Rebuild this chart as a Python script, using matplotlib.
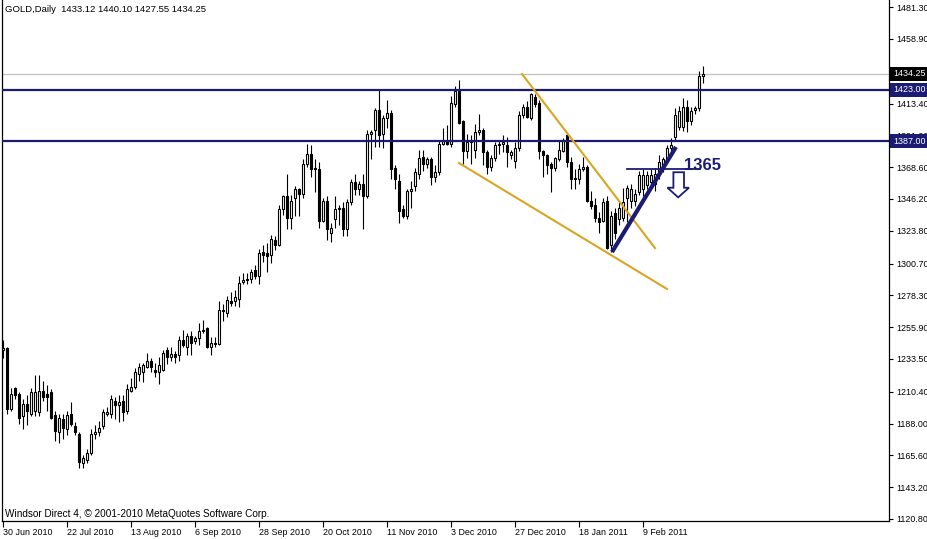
import matplotlib
matplotlib.use("Agg")
import matplotlib.pyplot as plt
import matplotlib.transforms as mtransforms
from matplotlib.patches import Polygon

plt.rcParams['font.family'] = ['Liberation Sans', 'DejaVu Sans']

# ---------------- data (GOLD daily) ----------------
opens = [1240, 1241, 1198, 1213, 1209, 1193, 1202, 1195, 1197, 1196,
         1211, 1209, 1210, 1194, 1182, 1191, 1184, 1195, 1186, 1181,
         1160, 1162, 1167, 1181, 1182, 1186, 1195, 1195, 1204, 1201,
         1204, 1197, 1211, 1214, 1223, 1224, 1228, 1232, 1226, 1224,
         1226, 1240, 1235, 1237, 1236, 1247, 1242, 1250, 1246, 1248,
         1253, 1255, 1242, 1245, 1244, 1268, 1266, 1274, 1274, 1276,
         1288, 1290, 1290, 1296, 1292, 1309, 1308, 1307, 1317, 1314,
         1339, 1348, 1333, 1347, 1353, 1350, 1371, 1378, 1368, 1367,
         1331, 1345, 1322, 1332, 1339, 1340, 1325, 1344, 1358, 1353,
         1357, 1348, 1392, 1395, 1409, 1392, 1403, 1407, 1368, 1359,
         1339, 1334, 1352, 1355, 1364, 1376, 1371, 1374, 1362, 1365,
         1385, 1387, 1385, 1413, 1422, 1401, 1380, 1386, 1381, 1393,
         1395, 1379, 1369, 1375, 1384, 1385, 1384, 1377, 1373, 1382,
         1405, 1411, 1403, 1418, 1414, 1380, 1377, 1371, 1368, 1374,
         1380, 1391, 1372, 1361, 1360, 1367, 1369, 1345, 1342, 1333,
         1331, 1345, 1314, 1336, 1332, 1333, 1347, 1345, 1345, 1351,
         1353, 1356, 1358, 1357, 1363, 1368, 1374, 1382, 1390, 1397,
         1397, 1411, 1401, 1409, 1410, 1433.12]
highs = [1247, 1242, 1213, 1214, 1210, 1205, 1208, 1213, 1222, 1222,
         1218, 1215, 1212, 1197, 1195, 1195, 1197, 1203, 1189, 1182,
         1166, 1170, 1184, 1187, 1190, 1198, 1200, 1208, 1207, 1208,
         1208, 1216, 1220, 1227, 1231, 1231, 1238, 1234, 1231, 1235,
         1240, 1242, 1242, 1239, 1250, 1254, 1252, 1253, 1250, 1259,
         1261, 1256, 1249, 1249, 1274, 1272, 1278, 1281, 1282, 1292,
         1294, 1294, 1297, 1300, 1311, 1314, 1315, 1321, 1320, 1342,
         1349, 1364, 1349, 1355, 1354, 1374, 1385, 1384, 1374, 1372,
         1347, 1348, 1329, 1348, 1342, 1344, 1346, 1360, 1364, 1359,
         1364, 1395, 1395, 1410, 1423, 1405, 1416, 1409, 1370, 1364,
         1342, 1353, 1359, 1368, 1381, 1381, 1376, 1376, 1370, 1388,
         1396, 1398, 1419, 1426, 1430, 1402, 1392, 1391, 1399, 1406,
         1396, 1381, 1377, 1386, 1388, 1391, 1390, 1381, 1386, 1408,
         1413, 1415, 1421, 1420, 1416, 1381, 1378, 1372, 1376, 1387,
         1389, 1393, 1376, 1367, 1371, 1376, 1370, 1352, 1347, 1337,
         1347, 1348, 1338, 1340, 1344, 1354, 1356, 1357, 1353, 1366,
         1367, 1366, 1367, 1368, 1377, 1376, 1384, 1389, 1410, 1412,
         1417, 1416, 1411, 1412, 1436, 1440.10]
lows = [1234, 1195, 1197, 1205, 1188, 1184, 1187, 1193, 1193, 1193,
        1204, 1197, 1191, 1176, 1174, 1177, 1180, 1186, 1180, 1157,
        1157, 1160, 1166, 1177, 1179, 1184, 1193, 1192, 1191, 1189,
        1190, 1195, 1210, 1212, 1218, 1217, 1227, 1224, 1221, 1216,
        1225, 1230, 1232, 1231, 1232, 1242, 1236, 1236, 1244, 1243,
        1252, 1241, 1236, 1242, 1243, 1260, 1263, 1271, 1271, 1270,
        1286, 1286, 1287, 1290, 1286, 1302, 1295, 1301, 1310, 1313,
        1335, 1325, 1325, 1334, 1334, 1347, 1369, 1362, 1351, 1326,
        1330, 1317, 1316, 1326, 1328, 1320, 1320, 1342, 1349, 1349,
        1325, 1347, 1374, 1383, 1383, 1382, 1396, 1360, 1353, 1329,
        1333, 1332, 1340, 1352, 1360, 1366, 1368, 1356, 1358, 1363,
        1384, 1384, 1383, 1411, 1399, 1371, 1375, 1371, 1375, 1391,
        1370, 1364, 1366, 1373, 1378, 1379, 1369, 1374, 1368, 1380,
        1403, 1403, 1402, 1411, 1374, 1362, 1364, 1351, 1366, 1373,
        1379, 1369, 1353, 1353, 1357, 1366, 1344, 1339, 1330, 1322,
        1330, 1311, 1309, 1318, 1328, 1331, 1330, 1340, 1341, 1349,
        1348, 1353, 1354, 1352, 1360, 1365, 1372, 1380, 1388, 1395,
        1394, 1393, 1398, 1406, 1408, 1427.55]
closes = [1241, 1198, 1209, 1208, 1192, 1202, 1197, 1210, 1210, 1211,
          1207, 1207, 1192, 1183, 1192, 1185, 1194, 1188, 1182, 1161,
          1164, 1167, 1181, 1182, 1185, 1196, 1196, 1205, 1201, 1203,
          1196, 1212, 1214, 1224, 1228, 1229, 1232, 1228, 1224, 1229,
          1238, 1235, 1237, 1235, 1247, 1243, 1250, 1245, 1248, 1253,
          1254, 1242, 1245, 1244, 1268, 1267, 1275, 1273, 1277, 1287,
          1289, 1289, 1295, 1292, 1308, 1307, 1306, 1318, 1314, 1339,
          1348, 1333, 1345, 1353, 1350, 1371, 1378, 1367, 1367, 1331,
          1345, 1325, 1326, 1339, 1340, 1325, 1344, 1358, 1353, 1357,
          1348, 1392, 1393, 1409, 1391, 1403, 1407, 1367, 1360, 1338,
          1334, 1352, 1353, 1365, 1375, 1371, 1374, 1362, 1365, 1385,
          1387, 1385, 1414, 1422, 1400, 1380, 1386, 1387, 1393, 1395,
          1379, 1369, 1375, 1384, 1385, 1386, 1379, 1379, 1382, 1405,
          1411, 1404, 1420, 1413, 1380, 1377, 1370, 1368, 1375, 1381,
          1388, 1372, 1360, 1360, 1367, 1369, 1345, 1341, 1333, 1330,
          1344, 1312, 1334, 1322, 1340, 1344, 1354, 1353, 1350, 1363,
          1363, 1363, 1363, 1364, 1372, 1374, 1382, 1384, 1405, 1408,
          1411, 1401, 1408, 1410, 1433, 1434.25]

date_tick_bars = [0, 16, 32, 48, 64, 80, 96, 112, 128, 144, 160]
date_tick_labels = ["30 Jun 2010", "22 Jul 2010", "13 Aug 2010", "6 Sep 2010",
                    "28 Sep 2010", "20 Oct 2010", "11 Nov 2010", "3 Dec 2010",
                    "27 Dec 2010", "18 Jan 2011", "9 Feb 2011"]
price_ticks = [1481.30, 1458.90, 1413.40, 1391.00, 1368.60, 1346.20, 1323.80,
               1300.70, 1278.30, 1255.90, 1233.50, 1210.40, 1188.00, 1165.60,
               1143.20, 1120.80]

bid_level = 1434.25
resist_levels = [1423.00, 1387.00]
upper_wedge = ([129.75, 163.0], [1434.2, 1311.6])
lower_wedge = ([114.0, 166.0], [1371.5, 1282.8])
blue_trend = ([152.25, 168.25], [1308.8, 1382.8])
level_1365 = ([156.0, 174.25], [1367.1, 1367.1])
arrow_x = [167.6, 170.25, 170.25, 171.5, 168.8, 166.1, 167.6]
arrow_p = [1365.0, 1365.0, 1354.1, 1354.1, 1347.3, 1354.1, 1354.1]

NAVY = '#1b1b72'
GOLDC = '#DAA520'
FS = 6.4

# ---------------- figure ----------------
fig = plt.figure(figsize=(9.27, 5.39), dpi=100)
ax = fig.add_axes([2 / 927, 18 / 539, 887 / 927, 521 / 539])
ax.set_xlim(-0.25, 221.5)
ax.set_ylim(1119.39, 1486.3)

xs = list(range(len(opens)))
ax.vlines(xs, lows, highs, color='black', linewidth=0.8, zorder=2)
bottoms = [min(o, c) for o, c in zip(opens, closes)]
heights = [abs(c - o) for o, c in zip(opens, closes)]
faces = ['white' if c >= o else 'black' for o, c in zip(opens, closes)]
ax.bar(xs, heights, bottom=bottoms, width=0.5, color=faces,
       edgecolor='black', linewidth=0.8, zorder=3)

ax.axhline(bid_level, color='#c0c0c0', linewidth=0.9, zorder=1)
for lv in resist_levels:
    ax.axhline(lv, color=NAVY, linewidth=1.6, zorder=4)

ax.plot(*upper_wedge, color=GOLDC, linewidth=1.5, zorder=4)
ax.plot(*lower_wedge, color=GOLDC, linewidth=1.5, zorder=4)
ax.plot(*blue_trend, color=NAVY, linewidth=3.0, zorder=5, solid_capstyle='butt')
ax.plot(*level_1365, color=NAVY, linewidth=1.3, zorder=5)
ax.add_patch(Polygon(list(zip(arrow_x, arrow_p)), closed=True, fill=False,
                     edgecolor=NAVY, linewidth=1.3, zorder=5))
ax.text(170.25, 1370.1, "1365", color=NAVY, fontsize=12, fontweight='bold',
        ha='left', va='center', zorder=6)

# axes styling
for s in ['left', 'bottom', 'right']:
    ax.spines[s].set_linewidth(0.9)
    ax.spines[s].set_color('black')
ax.spines['top'].set_visible(False)

ax.yaxis.tick_right()
ax.set_yticks(price_ticks)
ax.set_yticklabels([f"{v:.2f}" for v in price_ticks])
ax.tick_params(axis='y', direction='out', length=3, width=0.8, pad=2,
               labelsize=FS, colors='black')
ax.set_xticks(date_tick_bars)
ax.set_xticklabels(date_tick_labels)
ax.tick_params(axis='x', direction='out', length=4, width=0.8, pad=1,
               labelsize=FS, colors='black')
for lbl in ax.get_xticklabels():
    lbl.set_horizontalalignment('left')

# price label boxes on the right scale (they cover the scale label beneath, as in MT4)
trans = mtransforms.blended_transform_factory(ax.transAxes, ax.transData)
box_specs = [(bid_level, 'black'), (resist_levels[0], NAVY), (resist_levels[1], NAVY)]
for val, col in box_specs:
    ax.text(1.0 + 4 / 887, val, f"{val:.2f}", transform=trans, color='white',
            fontsize=FS, ha='left', va='center', zorder=10, clip_on=False,
            bbox=dict(boxstyle='square,pad=0.3', fc=col, ec='none'))

ax.text(3 / 887, 1 - 10 / 521, "GOLD,Daily  1433.12 1440.10 1427.55 1434.25",
        transform=ax.transAxes, fontsize=6.8, ha='left', va='center', color='black')
ax.text(3 / 887, 7 / 521, "Windsor Direct 4, \u00a9 2001-2010 MetaQuotes Software Corp.",
        transform=ax.transAxes, fontsize=7.2, ha='left', va='center', color='black')

fig.savefig('out.png', dpi=100)
